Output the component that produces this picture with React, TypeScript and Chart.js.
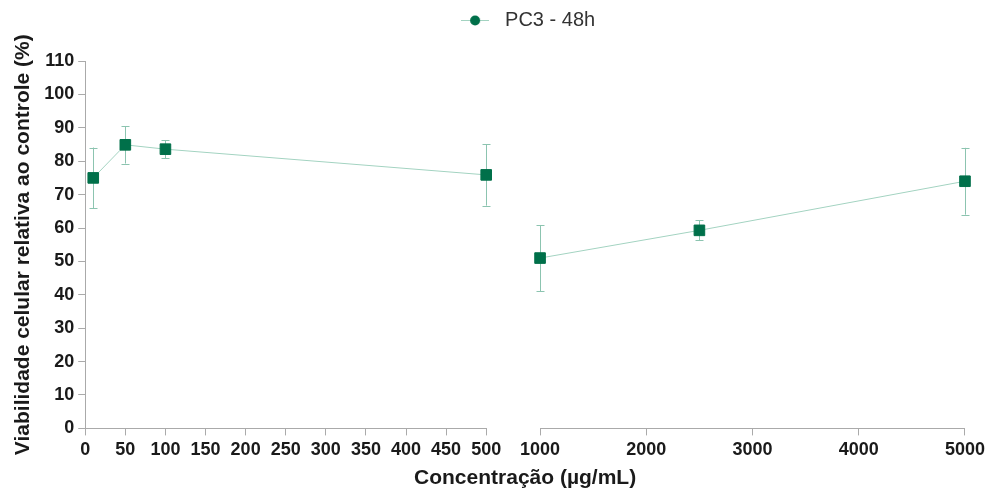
import React, { useEffect, useRef } from 'react';
import { Chart, registerables } from 'chart.js';

Chart.register(...registerables);

// ---- data ----
const seriesLabel = 'PC3 - 48h';
const lowConc = [10, 50, 100, 500];
const lowViab = [75.0, 84.9, 83.6, 75.9];
const lowErr = [9.1, 5.6, 2.7, 9.2];
const highConc = [1000, 2500, 5000];
const highViab = [51.0, 59.3, 74.0];
const highErr = [9.9, 3.0, 10.0];
const lowAxisRange = [0, 500];
const lowAxisStep = 50;
const highAxisRange = [1000, 5000];
const highAxisStep = 1000;
const yRange = [0, 110];
const yStep = 10;
const xTitle = 'Concentração (µg/mL)';
const yTitle = 'Viabilidade celular relativa ao controle (%)';

// ---- styles ----
const MARKER = '#00704a';
const LINE = '#a3d3c1';
const ERR = '#8cc4b0';
const AXIS = '#aaaaaa';
const TEXT = '#1a1a1a';
const FONT = "'Liberation Sans', Arial, sans-serif";

const errorBarsPlugin = {
  id: 'errorBars',
  beforeDatasetsDraw(chart: any) {
    const ctx = chart.ctx;
    const y = chart.scales.y;
    const sets = [
      { xs: chart.scales.xLow, conc: lowConc, v: lowViab, e: lowErr },
      { xs: chart.scales.xHigh, conc: highConc, v: highViab, e: highErr },
    ];
    ctx.save();
    ctx.strokeStyle = ERR;
    ctx.lineWidth = 1;
    for (const s of sets) {
      for (let i = 0; i < s.conc.length; i++) {
        const px = Math.round(s.xs.getPixelForValue(s.conc[i])) + 0.5;
        const top = y.getPixelForValue(s.v[i] + s.e[i]);
        const bot = y.getPixelForValue(s.v[i] - s.e[i]);
        ctx.beginPath();
        ctx.moveTo(px, top);
        ctx.lineTo(px, bot);
        ctx.moveTo(px - 4, Math.round(top) + 0.5);
        ctx.lineTo(px + 4, Math.round(top) + 0.5);
        ctx.moveTo(px - 4, Math.round(bot) + 0.5);
        ctx.lineTo(px + 4, Math.round(bot) + 0.5);
        ctx.stroke();
      }
    }
    ctx.restore();
  },
};

const xTitlePlugin = {
  id: 'xTitleCenter',
  afterDraw(chart: any) {
    const ctx = chart.ctx;
    const a = chart.chartArea;
    ctx.save();
    ctx.font = `bold 21px ${FONT}`;
    ctx.fillStyle = TEXT;
    ctx.textAlign = 'center';
    ctx.textBaseline = 'middle';
    ctx.fillText(xTitle, (a.left + a.right) / 2, chart.height - 11);
    ctx.restore();
  },
};

const legendSpacePlugin = {
  id: 'legendSpace',
  beforeInit(chart: any) {
    const legend = chart.legend;
    if (!legend) return;
    const orig = legend.fit;
    legend.fit = function () {
      orig.call(this);
      this.height += 21;
    };
  },
};

function makeLegendIcon() {
  const c = document.createElement('canvas');
  c.width = 28;
  c.height = 14;
  const g = c.getContext('2d')!;
  g.strokeStyle = LINE;
  g.lineWidth = 1;
  g.beginPath();
  g.moveTo(0, 7.5);
  g.lineTo(28, 7.5);
  g.stroke();
  g.fillStyle = MARKER;
  g.beginPath();
  g.arc(14, 7.5, 5, 0, Math.PI * 2);
  g.fill();
  return c;
}

const plainNum = (v: any) => String(v);

export default function App() {
  const ref = useRef<HTMLCanvasElement | null>(null);

  useEffect(() => {
    if (!ref.current) return;
    const icon = makeLegendIcon();
    const tickFont = { family: FONT, size: 18, weight: 'bold' as const };
    const dsCommon = {
      yAxisID: 'y',
      borderColor: LINE,
      borderWidth: 1,
      backgroundColor: MARKER,
      pointStyle: 'rect',
      pointRadius: 7.5,
      pointBorderColor: MARKER,
      pointBorderWidth: 1,
      pointBackgroundColor: MARKER,
      tension: 0,
      clip: false as any,
    };
    const chart = new Chart(ref.current, {
      type: 'line',
      data: {
        datasets: [
          {
            ...dsCommon,
            label: seriesLabel,
            data: lowConc.map((c, i) => ({ x: c, y: lowViab[i] })),
            xAxisID: 'xLow',
          } as any,
          {
            ...dsCommon,
            label: seriesLabel,
            data: highConc.map((c, i) => ({ x: c, y: highViab[i] })),
            xAxisID: 'xHigh',
          } as any,
        ],
      },
      options: {
        animation: false,
        responsive: true,
        maintainAspectRatio: false,
        layout: { padding: { top: 0, right: -2, bottom: 24, left: 11 } },
        plugins: {
          tooltip: { enabled: false },
          legend: {
            display: true,
            position: 'top',
            fullSize: false,
            labels: {
              usePointStyle: true,
              pointStyleWidth: 40,
              color: '#333333',
              font: { family: FONT, size: 20 },
              padding: 10,
              generateLabels: () => [
                {
                  text: seriesLabel,
                  pointStyle: icon as any,
                  fillStyle: MARKER,
                  strokeStyle: MARKER,
                  lineWidth: 0,
                  hidden: false,
                  datasetIndex: 0,
                  fontColor: '#333333',
                } as any,
              ],
            },
          },
        },
        scales: {
          y: {
            type: 'linear',
            position: 'left',
            min: yRange[0],
            max: yRange[1],
            ticks: { stepSize: yStep, color: TEXT, font: tickFont, padding: 4, callback: plainNum },
            grid: { drawOnChartArea: false, drawTicks: true, tickLength: 7, color: AXIS },
            border: { display: true, color: AXIS },
            title: {
              display: true,
              text: yTitle,
              color: TEXT,
              font: { family: FONT, size: 21, weight: 'bold' },
              padding: { top: 0, bottom: 4 },
            },
          },
          xLow: {
            type: 'linear',
            position: 'bottom',
            stack: 'x',
            stackWeight: 402,
            min: lowAxisRange[0],
            max: lowAxisRange[1],
            ticks: {
              stepSize: lowAxisStep,
              color: TEXT,
              font: tickFont,
              padding: 4,
              maxRotation: 0,
              minRotation: 0,
              autoSkip: false,
              callback: plainNum,
            },
            grid: { drawOnChartArea: false, drawTicks: true, tickLength: 7, color: AXIS },
            border: { display: true, color: AXIS },
          },
          xGap: {
            type: 'linear',
            position: 'bottom',
            stack: 'x',
            stackWeight: 54,
            min: 0,
            max: 1,
            ticks: { display: false },
            grid: { display: false },
            border: { display: false },
          },
          xHigh: {
            type: 'linear',
            position: 'bottom',
            stack: 'x',
            stackWeight: 426,
            min: highAxisRange[0],
            max: highAxisRange[1],
            ticks: {
              stepSize: highAxisStep,
              color: TEXT,
              font: tickFont,
              padding: 4,
              maxRotation: 0,
              minRotation: 0,
              autoSkip: false,
              callback: plainNum,
            },
            grid: { drawOnChartArea: false, drawTicks: true, tickLength: 7, color: AXIS },
            border: { display: true, color: AXIS },
          },
        },
      },
      plugins: [legendSpacePlugin, errorBarsPlugin, xTitlePlugin],
    });
    return () => chart.destroy();
  }, []);

  return (
    <div style={{ position: 'absolute', left: 0, top: 0, width: 989, height: 489, background: '#fff' }}>
      <canvas ref={ref} />
    </div>
  );
}
